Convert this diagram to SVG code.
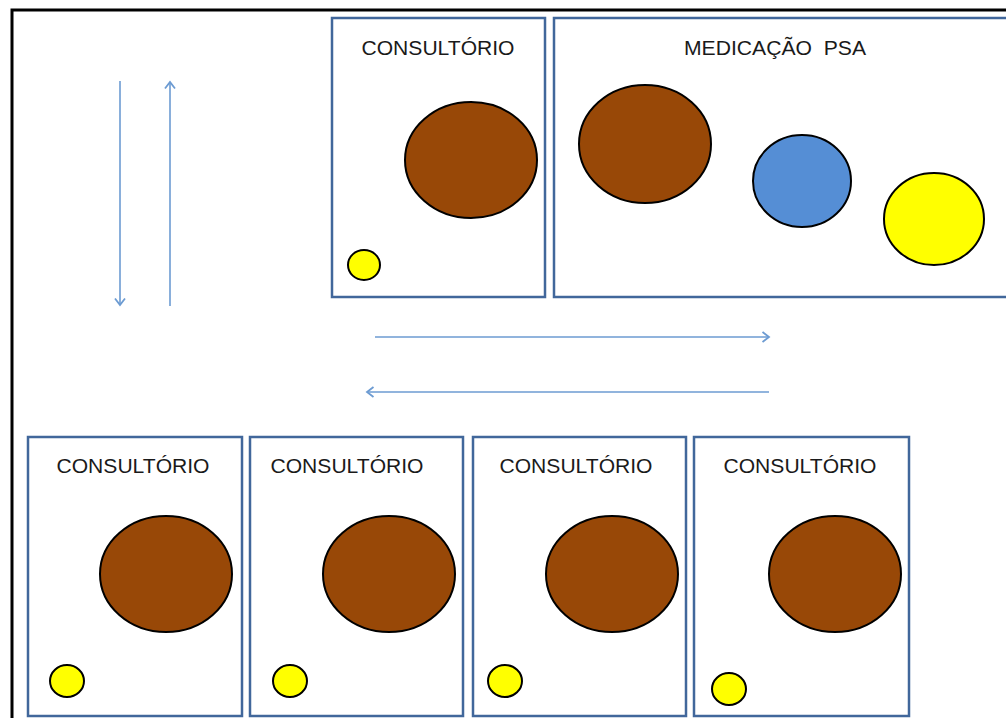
<svg xmlns="http://www.w3.org/2000/svg" width="1006" height="718" viewBox="0 0 1006 718">
<defs>
<style>
.box{fill:#fff;stroke:#41679B;stroke-width:2.5}
.lbl{font-family:"Liberation Sans",Arial,sans-serif;font-size:20px;fill:#1a1a1a;text-anchor:middle;white-space:pre}
.brown{fill:#984807;stroke:#000;stroke-width:2}
.yel{fill:#FFFF00;stroke:#000;stroke-width:2}
.blue{fill:#558ED5;stroke:#000;stroke-width:2}
.arr{stroke:#6C9BD2;stroke-width:1.6;fill:none;marker-end:url(#ah)}
</style>
<marker id="ah" markerWidth="14" markerHeight="14" refX="10" refY="7" orient="auto" markerUnits="userSpaceOnUse">
<path d="M3.5,2 L10,7 L3.5,12" fill="none" stroke="#6C9BD2" stroke-width="1.8"/>
</marker>
</defs>
<rect width="1006" height="718" fill="#fff"/>
<rect x="12" y="10" width="1010" height="720" fill="none" stroke="#000" stroke-width="3"/>

<g id="connectors">
<line class="arr" x1="120" y1="81" x2="120" y2="305"/>
<line class="arr" x1="170" y1="306" x2="170" y2="82"/>
<line class="arr" x1="375" y1="337" x2="769" y2="337"/>
<line class="arr" x1="769" y1="392" x2="367" y2="392"/>
</g>

<g id="consultorio-top">
<rect class="box" x="332" y="18" width="213" height="279"/>
<text class="lbl" x="438" y="55" textLength="153" lengthAdjust="spacingAndGlyphs">CONSULTÓRIO</text>
<ellipse class="brown" cx="471" cy="160" rx="66" ry="58"/>
<ellipse class="yel" cx="364" cy="265" rx="16" ry="15"/>
</g>

<g id="medicacao-psa">
<rect class="box" x="554" y="18" width="470" height="279"/>
<text class="lbl" x="775" y="55" xml:space="preserve" textLength="182" lengthAdjust="spacingAndGlyphs">MEDICAÇÃO  PSA</text>
<ellipse class="brown" cx="645" cy="144" rx="66" ry="59"/>
<ellipse class="blue" cx="802" cy="181" rx="49" ry="46"/>
<ellipse class="yel" cx="934" cy="219" rx="50" ry="46"/>
</g>

<g id="consultorio-1">
<rect class="box" x="28" y="437" width="214" height="279"/>
<text class="lbl" x="133" y="473" textLength="153" lengthAdjust="spacingAndGlyphs">CONSULTÓRIO</text>
<ellipse class="brown" cx="166" cy="574" rx="66" ry="58"/>
<ellipse class="yel" cx="67" cy="681" rx="17" ry="16"/>
</g>

<g id="consultorio-2">
<rect class="box" x="250" y="437" width="213" height="279"/>
<text class="lbl" x="347" y="473" textLength="153" lengthAdjust="spacingAndGlyphs">CONSULTÓRIO</text>
<ellipse class="brown" cx="389" cy="574" rx="66" ry="58"/>
<ellipse class="yel" cx="290" cy="681" rx="17" ry="16"/>
</g>

<g id="consultorio-3">
<rect class="box" x="473" y="437" width="213" height="279"/>
<text class="lbl" x="576" y="473" textLength="153" lengthAdjust="spacingAndGlyphs">CONSULTÓRIO</text>
<ellipse class="brown" cx="612" cy="574" rx="66" ry="58"/>
<ellipse class="yel" cx="505" cy="681" rx="17" ry="16"/>
</g>

<g id="consultorio-4">
<rect class="box" x="694" y="437" width="215" height="279"/>
<text class="lbl" x="800" y="473" textLength="153" lengthAdjust="spacingAndGlyphs">CONSULTÓRIO</text>
<ellipse class="brown" cx="835" cy="574" rx="66" ry="58"/>
<ellipse class="yel" cx="729" cy="689" rx="17" ry="16"/>
</g>
</svg>
